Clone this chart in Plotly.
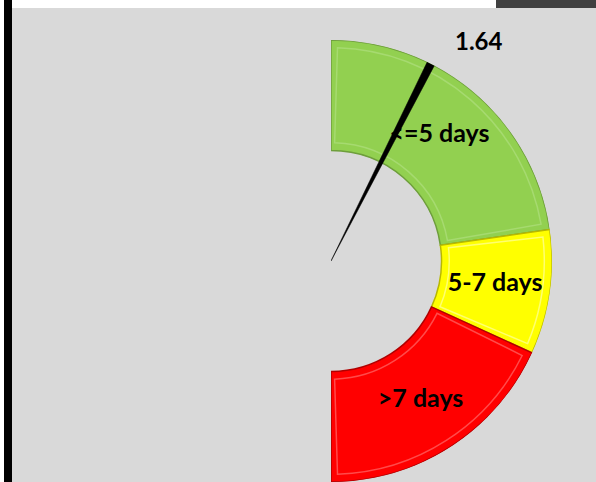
import math
import plotly.graph_objects as go

# Data
categories = ["<=5 days", "5-7 days", ">7 days"]
band_values = [5, 2, 4]
band_colors = ["#92D050", "#FFFF00", "#FF0000"]
band_edges = ["#6E9E3C", "#B8B800", "#B00000"]
band_highlights = ["#A6DA70", "#FFFF70", "#FF4A4A"]
needle_value = 1.64
needle_label = "1.64"

W, H = 596, 482
total = sum(band_values)
scale = 180.0 / total  # degrees per unit on a half gauge

# band geometry derived from data
thetas, widths = [], []
start = 0.0
for v in band_values:
    thetas.append((start + v / 2) * scale)
    widths.append(v * scale)
    start += v

fig = go.Figure()

fig.add_trace(go.Barpolar(
    r=[1] * len(band_values), base=[1] * len(band_values),
    theta=thetas, width=widths,
    marker=dict(color=band_colors, line=dict(color=band_edges, width=1.5)),
    hoverinfo="skip", showlegend=False,
))
# soft bevel highlight
fig.add_trace(go.Barpolar(
    r=[0.86] * len(band_values), base=[1.07] * len(band_values),
    theta=thetas, width=[w - 3.5 for w in widths],
    marker=dict(color="rgba(0,0,0,0)", line=dict(color=band_highlights, width=1.5)),
    hoverinfo="skip", showlegend=False,
))

fig.add_trace(go.Scatterpolar(
    r=[1.5] * len(categories), theta=thetas, text=categories, mode="text",
    textposition="middle center",
    textfont=dict(family="Lato", size=25, color="black", weight="bold"),
    hoverinfo="skip", showlegend=False, cliponaxis=False,
))

# needle: tapered wedge from the centre to the outer rim
nt = needle_value * scale
half = math.degrees(math.atan(4 / 221.0))
fig.add_trace(go.Scatterpolar(
    r=[0, 2, 2, 0], theta=[nt, nt - half, nt + half, nt],
    mode="lines", fill="toself", fillcolor="black",
    line=dict(color="black", width=0.5),
    hoverinfo="skip", showlegend=False,
))

cx, cy, R = 331, 261, 221
fig.update_layout(
    width=W, height=H,
    margin=dict(l=0, r=0, t=0, b=0),
    paper_bgcolor="white",
    polar=dict(
        domain=dict(x=[cx / W, (cx + R) / W], y=[1 - (cy + R) / H, 1 - (cy - R) / H]),
        sector=[-90, 90],
        bgcolor="rgba(0,0,0,0)",
        hole=0,
        radialaxis=dict(visible=False, range=[0, 2]),
        angularaxis=dict(visible=False, rotation=90, direction="clockwise",
                         showgrid=False, thetaunit="degrees"),
        barmode="overlay",
    ),
    shapes=[
        dict(type="rect", xref="paper", yref="paper", x0=12 / W, x1=1, y0=0, y1=1 - 8 / H,
             fillcolor="#D9D9D9", line=dict(width=0), layer="below"),
        dict(type="rect", xref="paper", yref="paper", x0=4 / W, x1=12 / W, y0=0, y1=1,
             fillcolor="black", line=dict(width=0), layer="below"),
        dict(type="rect", xref="paper", yref="paper", x0=496 / W, x1=1, y0=1 - 8 / H, y1=1,
             fillcolor="#404040", line=dict(width=0), layer="below"),
    ],
    annotations=[
        dict(text=needle_label, x=479 / W, y=1 - 40 / H, xref="paper", yref="paper",
             xanchor="center", yanchor="middle",
             showarrow=False, font=dict(family="Lato", size=24, color="black", weight="bold")),
    ],
)

fig.write_html("out.html")
